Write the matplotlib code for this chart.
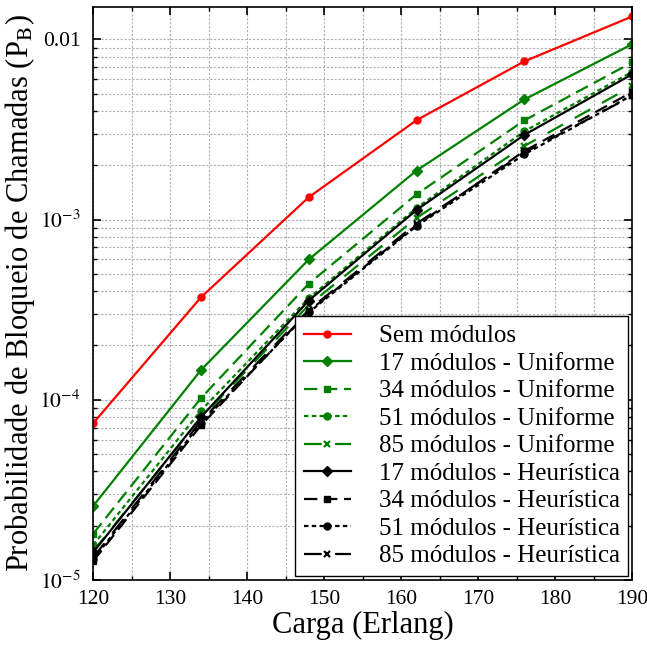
import numpy as np
import matplotlib.pyplot as plt
from matplotlib.ticker import FixedLocator, LogLocator, MultipleLocator, NullFormatter

plt.rcParams['font.family'] = ['Liberation Serif', 'DejaVu Serif']
plt.rcParams['mathtext.fontset'] = 'stix'

carga = [120, 134, 148, 162, 176, 190]

sem_modulos = [7.4e-5, 3.7e-4, 1.33e-3, 3.56e-3, 7.55e-3, 1.34e-2]
unif_17 = [2.57e-5, 1.46e-4, 6.0e-4, 1.87e-3, 4.64e-3, 9.4e-3]
unif_34 = [1.8e-5, 1.02e-4, 4.4e-4, 1.38e-3, 3.55e-3, 7.45e-3]
unif_51 = [1.56e-5, 8.7e-5, 3.66e-4, 1.16e-3, 3.09e-3, 6.6e-3]
unif_85 = [1.44e-5, 7.9e-5, 3.35e-4, 1.02e-3, 2.56e-3, 5.5e-3]
heur_17 = [1.42e-5, 8.0e-5, 3.55e-4, 1.13e-3, 2.95e-3, 6.4e-3]
heur_34 = [1.27e-5, 7.2e-5, 3.1e-4, 9.3e-4, 2.4e-3, 5.1e-3]
heur_51 = [1.3e-5, 7.4e-5, 3.05e-4, 9.2e-4, 2.3e-3, 4.9e-3]
heur_85 = [1.33e-5, 7.6e-5, 3.15e-4, 9.5e-4, 2.35e-3, 4.85e-3]

fig = plt.figure(figsize=(6.47, 6.5), dpi=100)
ax = fig.add_axes([0.144, 0.108, 0.833, 0.881])

lw = 1.6
ax.plot(carga, sem_modulos, '-', color='red', marker='o', ms=5, lw=lw, label='Sem módulos')
ax.plot(carga, unif_17, '-', color='green', marker='D', ms=5, lw=lw, label='17 módulos - Uniforme')
ax.plot(carga, unif_34, color='green', ls=(0, (6, 3)), marker='s', ms=5, lw=lw, label='34 módulos - Uniforme')
ax.plot(carga, unif_51, color='green', ls=(0, (2, 1.5)), marker='o', ms=5, lw=lw, label='51 módulos - Uniforme')
ax.plot(carga, unif_85, color='green', ls=(0, (8, 6)), marker='x', ms=4, mew=1.6, lw=lw, label='85 módulos - Uniforme')
ax.plot(carga, heur_17, '-', color='black', marker='D', ms=5, lw=lw, label='17 módulos - Heurística')
ax.plot(carga, heur_34, color='black', ls=(0, (6, 3)), marker='s', ms=5, lw=lw, label='34 módulos - Heurística')
ax.plot(carga, heur_51, color='black', ls=(0, (2, 1.5)), marker='o', ms=5, lw=lw, label='51 módulos - Heurística')
ax.plot(carga, heur_85, color='black', ls=(0, (8, 6)), marker='x', ms=4, mew=1.6, lw=lw, label='85 módulos - Heurística')

ax.set_yscale('log')
ax.set_xlim(120, 190)
ax.set_ylim(1e-5, 0.0151)

ax.xaxis.set_major_locator(MultipleLocator(10))
ax.xaxis.set_minor_locator(MultipleLocator(5))
ax.yaxis.set_major_locator(FixedLocator([1e-5, 1e-4, 1e-3, 1e-2]))
ax.set_yticklabels(['$10^{-5}$', '$10^{-4}$', '$10^{-3}$', '0.01'])
ax.yaxis.set_minor_locator(LogLocator(base=10, subs=np.arange(2, 10)))
ax.yaxis.set_minor_formatter(NullFormatter())

ax.tick_params(which='both', direction='in', top=True, right=True, labelsize=15.5)
ax.tick_params(axis='y', pad=9)
ax.tick_params(axis='x', pad=7)
ax.tick_params(which='major', length=6, width=1.2)
ax.tick_params(which='minor', length=3, width=1)
ax.grid(True, which='both', ls=(0, (2, 1.5)), color='#b0b0b0', lw=0.8)
for s in ax.spines.values():
    s.set_linewidth(1.2)

ax.set_xlabel('Carga (Erlang)', fontsize=22, labelpad=2)
ax.set_ylabel('Probabilidade de Bloqueio de Chamadas (P$_\\mathrm{B}$)', fontsize=22, labelpad=2)

leg = ax.legend(loc='lower right', fontsize=18, fancybox=False, framealpha=1,
                edgecolor='black', labelspacing=0.2, handlelength=1.9,
                borderaxespad=0.15, handletextpad=1.1, borderpad=0.35)
leg.get_frame().set_linewidth(1)

fig.savefig('out.png', dpi=100)
